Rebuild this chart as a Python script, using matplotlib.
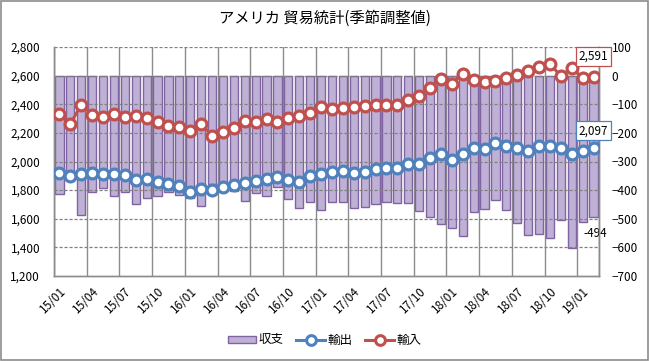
import matplotlib
matplotlib.use('Agg')
import matplotlib.pyplot as plt
from matplotlib.patches import Rectangle
from matplotlib.lines import Line2D
import numpy as np

plt.rcParams['font.family'] = ['Noto Sans CJK JP', 'DejaVu Sans']

# 月 (15/01 - 19/02)
months = [f'{y:02d}/{m:02d}' for y in range(15, 20) for m in range(1, 13)][:50]

# 輸出
exports = [1922, 1898, 1914, 1922, 1914, 1914, 1905, 1872, 1877, 1858, 1844, 1830,
           1788, 1807, 1802, 1823, 1837, 1847, 1865, 1877, 1889, 1870, 1858, 1898, 1915,
           1924, 1931, 1922, 1929, 1950, 1954, 1954, 1985, 1985, 2024, 2055, 2013, 2050,
           2092, 2087, 2129, 2111, 2092, 2073, 2111, 2111, 2097, 2052, 2073, 2097]
# 輸入
imports = [2335, 2263, 2396, 2328, 2309, 2333, 2314, 2319, 2307, 2277, 2251, 2244,
           2214, 2263, 2181, 2207, 2237, 2284, 2274, 2298, 2277, 2302, 2321, 2342, 2382,
           2368, 2372, 2384, 2389, 2396, 2396, 2398, 2431, 2459, 2517, 2573, 2543, 2611,
           2571, 2555, 2564, 2580, 2606, 2634, 2662, 2681, 2597, 2653, 2585, 2591]
# 収支
balance = [-412, -365, -486, -407, -393, -421, -408, -447, -428, -419, -405, -416,
           -426, -457, -378, -385, -402, -439, -411, -420, -389, -430, -464, -443, -469,
           -443, -440, -463, -460, -448, -442, -444, -446, -472, -493, -519, -531, -560,
           -477, -467, -435, -470, -516, -556, -555, -568, -503, -601, -513, -494]

c_bar = '#BFB1D6'
c_bar_edge = '#8064A2'
c_exp = '#4F81BD'
c_imp = '#C0504D'
c_grid = '#8C8C8C'

fig = plt.figure(figsize=(6.49, 3.61), dpi=100)
fig.patches.append(Rectangle((0.001, 0.002), 0.997, 0.995, transform=fig.transFigure,
                             fill=False, edgecolor='#8C8C8C', linewidth=1.2))

x = np.arange(len(months))

# 収支 (右軸) を下に、輸出入 (左軸) を上に
ax_bal = fig.add_axes([54 / 649, 1 - 276 / 361, 545 / 649, 229 / 361])
ax = ax_bal.twinx()

ax_bal.bar(x, balance, width=0.76, color=c_bar, edgecolor=c_bar_edge, linewidth=1.0, zorder=2)
ax_bal.set_ylim(-700, 100)
ax_bal.set_yticks(range(-700, 101, 100))
ax_bal.yaxis.tick_right()
ax_bal.set_xlim(-0.5, len(months) - 0.5)
for b in np.arange(-0.5, len(months), 3):
    ax_bal.axvline(b, color=c_grid, linewidth=1.0, zorder=1)
ax_bal.axvline(len(months) - 0.5, color=c_grid, linewidth=1.0, zorder=1)

ax.yaxis.tick_left()
ax.set_ylim(1200, 2800)
ax.set_yticks(range(1200, 2801, 200))
ax.set_yticklabels([f'{v:,}' for v in range(1200, 2801, 200)])
for v in range(1400, 2801, 200):
    ax.axhline(v, color='#808080', linewidth=0.9, linestyle=(0, (2.5, 1.5)), zorder=1)

ax.plot(x, exports, color=c_exp, linewidth=2.2, marker='o', markersize=7.8,
        markerfacecolor='white', markeredgecolor=c_exp, markeredgewidth=2.3, zorder=4)
ax.plot(x, imports, color=c_imp, linewidth=2.2, marker='o', markersize=7.8,
        markerfacecolor='white', markeredgecolor=c_imp, markeredgewidth=2.3, zorder=4)

ticks = x[::3]
ax_bal.set_xticks(ticks)
ax_bal.set_xticklabels([months[i] for i in ticks], rotation=45, ha='right',
                       rotation_mode='anchor', fontsize=8.5)
ax_bal.tick_params(axis='x', length=0, pad=6)
ax_bal.tick_params(axis='y', length=0, pad=9, labelsize=8.5)
ax.tick_params(axis='y', length=0, pad=10, labelsize=8.5)

for a in (ax_bal, ax):
    a.spines['top'].set_visible(False)
    for s in ('left', 'right', 'bottom'):
        a.spines[s].set_color(c_grid)
        a.spines[s].set_linewidth(1.0)

# データラベル
last = len(months) - 1
ax.annotate(f'{imports[last]:,}', (x[last], imports[last]), xytext=(0, 15),
            textcoords='offset points', ha='center', va='center', fontsize=8.5,
            bbox=dict(boxstyle='square,pad=0.25', fc='white', ec=c_imp, lw=0.9), zorder=6)
ax.annotate(f'{exports[last]:,}', (x[last], exports[last]), xytext=(0, 12),
            textcoords='offset points', ha='center', va='center', fontsize=8.5,
            bbox=dict(boxstyle='square,pad=0.25', fc='white', ec=c_exp, lw=0.9), zorder=6)
ax_bal.annotate(f'{balance[last]}', (x[last], balance[last]), xytext=(1, -12),
                textcoords='offset points', ha='center', va='center', fontsize=8.5, zorder=6)

fig.text(0.5, 1 - 18 / 361, 'アメリカ 貿易統計(季節調整値)', ha='center', va='center', fontsize=11)

handles = [Rectangle((0, 0), 1, 1, facecolor=c_bar, edgecolor=c_bar_edge, linewidth=1.0),
           Line2D([], [], color=c_exp, linewidth=2.2, marker='o', markersize=7,
                  markerfacecolor='white', markeredgecolor=c_exp, markeredgewidth=2.2),
           Line2D([], [], color=c_imp, linewidth=2.2, marker='o', markersize=7,
                  markerfacecolor='white', markeredgecolor=c_imp, markeredgewidth=2.2)]
fig.legend(handles, ['収支', '輸出', '輸入'], loc='center', bbox_to_anchor=(0.5, 1 - 340 / 361),
           ncol=3, frameon=False, fontsize=9, handlelength=2.3, handleheight=0.5,
           handletextpad=0.2, columnspacing=1.0)

fig.savefig('out.png', dpi=100)
